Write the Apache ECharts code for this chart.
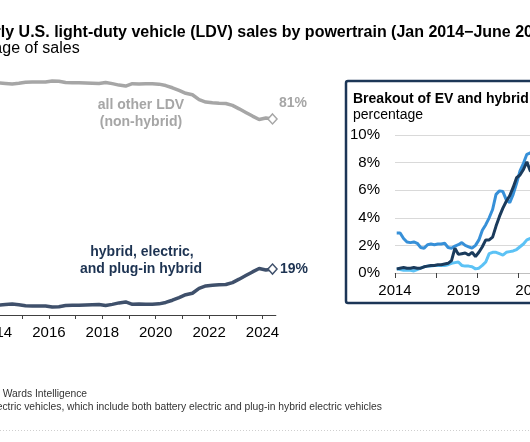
<!DOCTYPE html>
<html>
<head>
<meta charset="utf-8">
<script src="https://cdn.jsdelivr.net/npm/echarts@6/dist/echarts.min.js"></script>
<style>
html,body{margin:0;padding:0;background:#fff;}
#chart{width:530px;height:442px;}
</style>
</head>
<body>
<div id="chart"></div>
<script>
// Quarterly data, 2014Q1 .. 2024Q2
const startYear = 2014;
const hybridTotal = [4.1,4.3,4.5,4.2,3.8,3.7,3.7,3.7,3.3,3.4,3.9,4.0,4.0,4.1,4.2,4.3,3.9,4.4,5.0,5.4,4.4,4.5,4.4,4.4,4.6,5.2,6.1,7.2,8.4,9.0,11.0,12.0,12.3,12.5,12.6,13.4,14.8,16.3,17.8,19.2,18.6,19.0];
const allOther = [95.9,95.7,95.5,95.8,96.2,96.3,96.3,96.3,96.7,96.6,96.1,96.0,96.0,95.9,95.8,95.7,96.1,95.6,95.0,94.6,95.6,95.5,95.6,95.6,95.4,94.8,93.9,92.8,91.6,91.0,89.0,88.0,87.7,87.5,87.4,86.6,85.2,83.7,82.2,80.8,81.4,81.0];
const hybridOnly = [2.9,2.9,2.5,2.25,2.2,2.25,2.15,1.85,1.8,2.05,2.1,2.05,2.1,2.1,2.15,1.85,1.8,1.95,2.05,2.2,2.0,1.9,1.8,2.0,2.4,3.1,3.5,4.0,4.6,5.7,5.95,5.9,5.3,5.1,5.7,6.5,7.4,7.95,8.6,8.7,9.0,9.5];
const bev = [0.3,0.35,0.4,0.35,0.35,0.4,0.35,0.35,0.45,0.5,0.55,0.55,0.6,0.6,0.65,0.7,0.9,1.8,1.35,1.4,1.45,1.3,1.5,1.2,1.5,1.9,2.4,2.4,2.6,3.4,4.1,4.7,5.2,5.6,6.2,6.9,7.1,7.5,8.05,7.4,7.3,7.6];
const phev = [0.3,0.25,0.2,0.2,0.2,0.15,0.25,0.35,0.45,0.5,0.5,0.55,0.55,0.55,0.55,0.6,0.7,0.75,0.8,0.55,0.5,0.5,0.45,0.3,0.35,0.55,0.8,1.4,1.5,1.5,1.4,1.3,1.5,1.55,1.6,1.7,1.9,2.1,2.4,2.5,2.3,2.4];
const mainYearTicks = [2014,2015,2016,2017,2018,2019,2020,2021,2022,2023,2024];
const mainYearLabels = [2014,2016,2018,2020,2022,2024];
const insetYearTicks = [2014,2017,2020,2023];
const insetYearLabels = [2014,2019,2024];
const insetPctTicks = [0,2,4,6,8,10];

const GRAY = '#a6a6a6';
const NAVY_LINE = '#3f506b';
const NAVY_TEXT = '#1d3352';
const BOX = '#1c3657';

function qYear(i){ return startYear + (i + 0.5) / 4; }
function pairs(arr){ return arr.map((v,i)=>[qYear(i), v]); }
function withEndMarker(arr, color){
  return arr.map((v,i)=>{
    if(i === arr.length-1){
      return {value:[qYear(i), v], symbol:'diamond', symbolSize:[9,10],
        itemStyle:{color:'#fff', borderColor:color, borderWidth:1.5}};
    }
    return {value:[qYear(i), v], symbol:'none'};
  });
}

const chart = echarts.init(document.getElementById('chart'), null, {renderer:'canvas'});
const font = 'Liberation Sans, Arial, Helvetica, sans-serif';

const option = {
  backgroundColor:'#fff',
  animation:false,
  textStyle:{fontFamily:font},
  grid:[
    {left:-4.5, top:73, width:280.35, height:242, containLabel:false, outerBoundsMode:'none'},
    {left:395, top:135, width:143.85, height:138, containLabel:false, outerBoundsMode:'none'}
  ],
  xAxis:[
    {type:'value', gridIndex:0, min:2014, max:2024.5,
      axisLine:{show:true, lineStyle:{color:'#404040', width:1}},
      axisTick:{show:true, length:4, customValues:mainYearTicks, lineStyle:{color:'#404040'}},
      axisLabel:{customValues:mainYearLabels, formatter:v=>String(Math.round(v)), fontSize:15, color:'#000', margin:10, fontFamily:font},
      splitLine:{show:false}},
    {type:'value', gridIndex:1, min:2014, max:2024.5,
      axisLine:{show:true, lineStyle:{color:'#bfbfbf', width:1}},
      axisTick:{show:true, length:5, customValues:insetYearTicks, lineStyle:{color:'#404040'}},
      axisLabel:{customValues:insetYearLabels, formatter:v=>String(Math.round(v)), fontSize:15, color:'#000', margin:10, fontFamily:font},
      splitLine:{show:false}}
  ],
  yAxis:[
    {type:'value', gridIndex:0, min:0, max:100, show:false},
    {type:'value', gridIndex:1, min:0, max:10, interval:2,
      axisLine:{show:false}, axisTick:{show:false},
      axisLabel:{customValues:insetPctTicks, formatter:'{value}%', fontSize:15, color:'#000', margin:15, fontFamily:font},
      splitLine:{show:true, lineStyle:{color:'#d9d9d9', width:1}}}
  ],
  series:[
    {type:'line', xAxisIndex:0, yAxisIndex:0, data:withEndMarker(allOther, GRAY), showSymbol:true,
      lineStyle:{color:GRAY, width:3.5}, itemStyle:{color:GRAY}, z:3},
    {type:'line', xAxisIndex:0, yAxisIndex:0, data:withEndMarker(hybridTotal, NAVY_LINE), showSymbol:true,
      lineStyle:{color:NAVY_LINE, width:3.5}, itemStyle:{color:NAVY_LINE}, z:3},
    {type:'line', xAxisIndex:1, yAxisIndex:1, data:pairs(phev), showSymbol:false,
      lineStyle:{color:'#5cc2f5', width:3}, z:3},
    {type:'line', xAxisIndex:1, yAxisIndex:1, data:pairs(hybridOnly), showSymbol:false,
      lineStyle:{color:'#3790d8', width:3}, z:4},
    {type:'line', xAxisIndex:1, yAxisIndex:1, data:pairs(bev), showSymbol:false,
      lineStyle:{color:'#1b3b5c', width:3}, z:5}
  ],
  graphic:[
    {type:'text', left:-57, top:25, style:{text:'Quarterly U.S. light-duty vehicle (LDV) sales by powertrain (Jan 2014\u2212June 2024)', font:'bold 16px '+font, fill:'#000'}},
    {type:'text', left:-60, top:41, style:{text:'percentage of sales', font:'16px '+font, fill:'#000'}},
    {type:'text', x:141, y:105, style:{text:'all other LDV', font:'bold 14px '+font, fill:GRAY, align:'center', verticalAlign:'middle'}},
    {type:'text', x:141, y:122, style:{text:'(non-hybrid)', font:'bold 14px '+font, fill:GRAY, align:'center', verticalAlign:'middle'}},
    {type:'text', x:279, y:103, style:{text:'81%', font:'bold 14px '+font, fill:GRAY, align:'left', verticalAlign:'middle'}},
    {type:'text', x:142, y:252, style:{text:'hybrid, electric,', font:'bold 14px '+font, fill:NAVY_TEXT, align:'center', verticalAlign:'middle'}},
    {type:'text', x:141, y:269.5, style:{text:'and plug-in hybrid', font:'bold 14px '+font, fill:NAVY_TEXT, align:'center', verticalAlign:'middle'}},
    {type:'text', x:280, y:269.5, style:{text:'19%', font:'bold 14px '+font, fill:NAVY_TEXT, align:'left', verticalAlign:'middle'}},
    {type:'rect', shape:{x:346, y:81, width:220, height:222, r:2}, style:{fill:'none', stroke:BOX, lineWidth:2.5}, z:10},
    {type:'text', x:353, y:99.5, style:{text:'Breakout of EV and hybrid sales', font:'bold 14px '+font, fill:'#000', verticalAlign:'middle'}},
    {type:'text', x:353, y:115.5, style:{text:'percentage', font:'14px '+font, fill:'#000', verticalAlign:'middle'}},
    {type:'text', x:-58.5, y:394, style:{text:'Data source: Wards Intelligence', font:'10.3px '+font, fill:'#333', verticalAlign:'middle'}},
    {type:'text', x:-58.5, y:407, style:{text:'Note: EV=electric vehicles, which include both battery electric and plug-in hybrid electric vehicles', font:'10.3px '+font, fill:'#333', verticalAlign:'middle'}},
    {type:'line', shape:{x1:0, y1:430.5, x2:530, y2:430.5}, style:{stroke:'#cfcfcf', lineWidth:1, lineDash:[1,2]}}
  ]
};
chart.setOption(option);
</script>
</body>
</html>
